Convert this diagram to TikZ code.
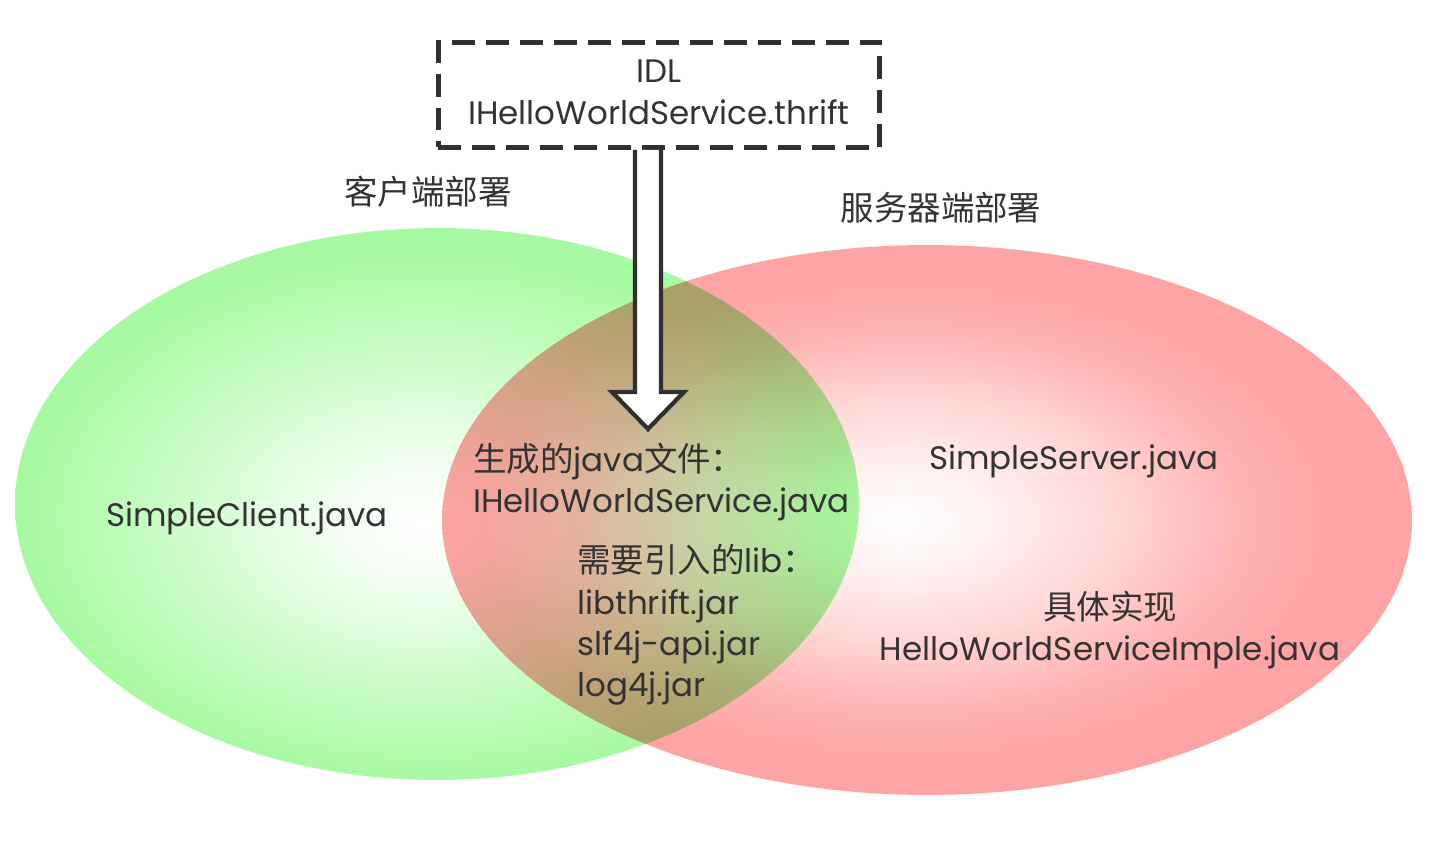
\documentclass[tikz,border=0pt]{standalone}
\usepackage{fontspec}
\setmainfont{Poppins}
\newfontfamily\cjk[Scale=1.03]{Noto Sans CJK SC}
\usetikzlibrary{calc,positioning}

\definecolor{clientgreen}{RGB}{168,250,162}
\definecolor{serverred}{RGB}{255,164,164}
\definecolor{textgray}{RGB}{51,51,51}
\definecolor{boxgray}{RGB}{48,48,48}

\pgfdeclareradialshading{clientfade}{\pgfpoint{-1bp}{-2bp}}{color(0bp)=(white); color(5bp)=(clientgreen!12); color(12bp)=(clientgreen!45); color(19bp)=(clientgreen!78); color(24bp)=(clientgreen); color(50bp)=(clientgreen)}
\pgfdeclareradialshading{serverfade}{\pgfpoint{-1.5bp}{0bp}}{color(0bp)=(white); color(4bp)=(serverred!12); color(11bp)=(serverred!45); color(17bp)=(serverred!82); color(22bp)=(serverred); color(50bp)=(serverred)}

\tikzset{
  txt/.style={font=\fontsize{18.5pt}{23.6pt}\selectfont, text=textgray, inner sep=0pt},
  idlbox/.style={txt, draw=boxgray, line width=0.1cm, dash pattern=on 0.46cm off 0.22cm, minimum width=8.84cm, minimum height=2.1cm, align=center, text depth=0.12cm},
  hollow/.style={draw=boxgray, fill=white, line width=0.085cm, line join=miter}
}

\begin{document}
\begin{tikzpicture}[x=0.02cm,y=-0.02cm]
\useasboundingbox (0,0) rectangle (1448,844);
% deployment sets
\shade[shading=clientfade] (437,504) ellipse (8.44cm and 5.52cm);
\begin{scope}[blend mode=multiply]
\shade[shading=serverfade] (927,520) ellipse (9.7cm and 5.5cm);
\end{scope}
\node[txt] (clientlbl) at (428,192) {\cjk 客户端部署};
\node[txt] (serverlbl) at (941,208) {\cjk 服务器端部署};
% idl file and generation arrow
\node[idlbox] (idl) at (659,95) {IDL\\IHelloWorldService.thrift};
\coordinate (tip) at (648,429);
\draw[hollow] ($(idl.south -| tip)+(-13,0)$) -- ($(tip)+(-13,-37)$) -- ($(tip)+(-36,-37)$) -- (tip)
  -- ($(tip)+(36,-37)$) -- ($(tip)+(13,-37)$) -- ($(idl.south -| tip)+(13,0)$);
% contents
\node[txt] (client) at (247,518) {SimpleClient.java};
\node[txt] (server) at (1074,461) {SimpleServer.java};
\node[txt, align=center] (impl) at (1110,630) {{\cjk 具体实现}\\HelloWorldServiceImple.java};
\node[txt, anchor=west, align=left] (gen) at (473,482) {{\cjk 生成的}java{\cjk 文件：}\\IHelloWorldService.java};
\node[txt, anchor=west, align=left] (libs) at (577,625) {{\cjk 需要引入的}lib{\cjk ：}\\libthrift.jar\\slf4j-api.jar\\log4j.jar};
\end{tikzpicture}
\end{document}
